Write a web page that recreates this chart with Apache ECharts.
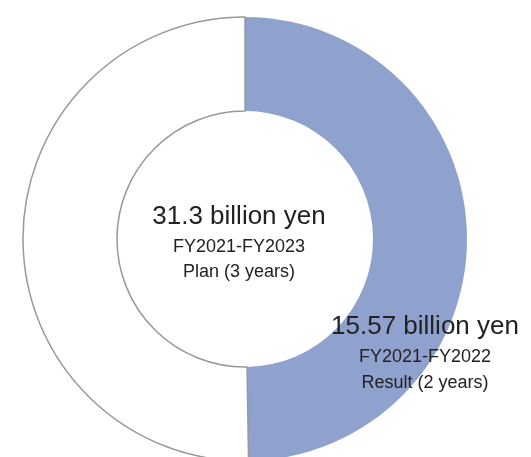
<!DOCTYPE html>
<html>
<head>
<meta charset="utf-8">
<script src="https://cdn.jsdelivr.net/npm/echarts@6/dist/echarts.min.js"></script>
<style>
  html, body { margin: 0; padding: 0; background: #fff; }
  #chart { width: 531px; height: 457px; }
</style>
</head>
<body>
<div id="chart"></div>
<script>
// values in billion yen
var planTotal = 31.3;
var resultValue = 15.57;
var sliceNames = ['Result', 'Remaining'];
var sliceValues = [resultValue, +(planTotal - resultValue).toFixed(2)];

var planLines = [planTotal + ' billion yen', 'FY2021-FY2023', 'Plan (3 years)'];
var resultLines = [resultValue + ' billion yen', 'FY2021-FY2022', 'Result (2 years)'];

var chart = echarts.init(document.getElementById('chart'));

var fontFamily = '"Liberation Sans", Arial, Helvetica, sans-serif';

function textBlock(lines, x, ys) {
    return lines.map(function (t, i) {
        return {
            type: 'text',
            x: x,
            y: ys[i],
            z: 100,
            style: {
                text: t,
                fill: '#222',
                font: (i === 0 ? '26px ' : '18px ') + fontFamily,
                align: 'center',
                verticalAlign: 'middle'
            }
        };
    });
}

var option = {
    animation: false,
    backgroundColor: '#fff',
    series: [{
        type: 'pie',
        center: [245, 239],
        radius: [128, 222],
        startAngle: 90,
        clockwise: true,
        silent: true,
        label: { show: false },
        labelLine: { show: false },
        data: [
            {
                name: sliceNames[0],
                value: sliceValues[0],
                itemStyle: { color: '#8fa1cd', borderWidth: 0 }
            },
            {
                name: sliceNames[1],
                value: sliceValues[1],
                itemStyle: { color: '#fff', borderColor: '#999', borderWidth: 1.5 }
            }
        ]
    }],
    graphic: textBlock(planLines, 239, [217, 247, 272])
        .concat(textBlock(resultLines, 425, [327, 357, 383]))
};

chart.setOption(option);
</script>
</body>
</html>
